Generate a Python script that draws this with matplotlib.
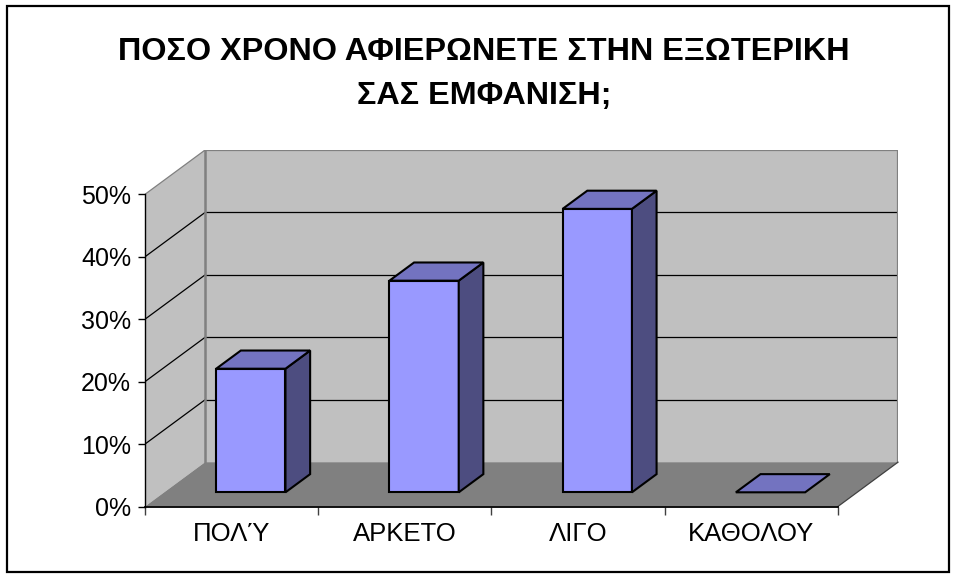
import matplotlib
matplotlib.use('Agg')
import matplotlib.pyplot as plt
from matplotlib.patches import Polygon, Rectangle

# data
categories = ['ΠΟΛΎ', 'ΑΡΚΕΤΟ', 'ΛΙΓΟ', 'ΚΑΘΟΛΟΥ']
values = [19.8, 33.9, 45.4, 0.0]
yticks = [0, 10, 20, 30, 40, 50]
ytick_labels = ['0%', '10%', '20%', '30%', '40%', '50%']
title = 'ΠΟΣΟ ΧΡΟΝΟ ΑΦΙΕΡΩΝΕΤΕ ΣΤΗΝ ΕΞΩΤΕΡΙΚΗ\nΣΑΣ ΕΜΦΑΝΙΣΗ;'

plt.rcParams['font.family'] = ['Liberation Sans', 'DejaVu Sans']

# 3d look: depth offset of the back wall, in data units
ddx = 0.347
ddy = 7.1
bar_w = 0.4
d0, d1 = 0.32, 0.73   # bar front/back position inside the depth
ymax = yticks[-1]
n = len(categories)

wall_c = '#c0c0c0'
floor_c = '#808080'
edge_c = '#808080'
front_c = '#9999ff'
top_c = '#7373c0'
side_c = '#4d4d80'

W, H = 957, 578
fig = plt.figure(figsize=(W / 100, H / 100), dpi=100)
ax = fig.add_axes([145 / W, (H - 506.5) / H, (898 - 145) / W, (506.5 - 150) / H])
ax.set_xlim(0, n + ddx)
ax.set_ylim(0, ymax + ddy)
ax.set_facecolor('none')

# walls and floor
ax.add_patch(Polygon([(0, 0), (0, ymax), (ddx, ymax + ddy), (ddx, ddy)],
                     closed=True, fc=wall_c, ec='none', zorder=1))
ax.add_patch(Polygon([(ddx, ddy), (ddx, ymax + ddy), (n + ddx, ymax + ddy), (n + ddx, ddy)],
                     closed=True, fc=wall_c, ec='none', zorder=1))
ax.add_patch(Polygon([(0, 0), (n, 0), (n + ddx, ddy), (ddx, ddy)],
                     closed=True, fc=floor_c, ec='none', zorder=1))

# gridlines on the back and side walls
for v in yticks[1:-1]:
    ax.plot([ddx, n + ddx], [v + ddy, v + ddy], color='black', lw=0.9, zorder=2)
for v in yticks[1:]:
    ax.plot([0, ddx], [v, v + ddy], color='black' if v < ymax else edge_c, lw=0.9, zorder=2)
# wall borders
ax.plot([ddx, n + ddx, n + ddx], [ymax + ddy, ymax + ddy, ddy], color=edge_c, lw=1.6, zorder=2)
ax.plot([ddx, ddx], [ddy, ymax + ddy], color=edge_c, lw=1.8, zorder=2)
ax.plot([n, n + ddx], [0, ddy], color='#404040', lw=0.9, zorder=2, clip_on=False)

# bars
dd = d1 - d0
for i, v in enumerate(values):
    xl = i + 0.5 - bar_w / 2 + d0 * ddx
    xr = xl + bar_w
    yb = d0 * ddy
    yt = yb + v
    kw = dict(closed=True, ec='black', lw=1.5, joinstyle='miter', zorder=3)
    if v > 0:
        ax.add_patch(Rectangle((xl, yb), bar_w, v, fc=front_c, ec='black', lw=1.5, zorder=3))
        ax.add_patch(Polygon([(xr, yb), (xr + dd * ddx, yb + dd * ddy),
                              (xr + dd * ddx, yt + dd * ddy), (xr, yt)], fc=side_c, **kw))
    ax.add_patch(Polygon([(xl, yt), (xr, yt), (xr + dd * ddx, yt + dd * ddy),
                          (xl + dd * ddx, yt + dd * ddy)], fc=top_c, **kw))

# axes
for s in ['top', 'right']:
    ax.spines[s].set_visible(False)
ax.spines['left'].set_bounds(0, ymax)
ax.spines['bottom'].set_bounds(0, n)
ax.spines['left'].set_linewidth(1.0)
ax.spines['bottom'].set_linewidth(1.3)
ax.spines['left'].set_zorder(4)
ax.spines['bottom'].set_zorder(4)
ax.set_yticks(yticks)
ax.set_yticklabels(ytick_labels, fontsize=18)
ax.set_xticks(range(n + 1))
ax.set_xticklabels([''] * (n + 1))
ax.set_xticks([i + 0.5 for i in range(n)], minor=True)
ax.set_xticklabels(categories, minor=True, fontsize=18.5)
ax.tick_params(axis='y', length=5, width=1.0, pad=5)
ax.tick_params(axis='x', which='major', length=6, width=1.0, color='#404040')
ax.tick_params(axis='x', which='minor', length=0, pad=11)

fig.text(484 / W, 1 - 74 / H, title, ha='center', va='center',
         fontsize=23.3, fontweight='bold', linespacing=1.65)

fig.patches.append(Rectangle((7.5 / W, 6 / H), (949 - 7.5) / W, (572 - 6) / H,
                             transform=fig.transFigure, fill=False, ec='black', lw=1.6))

fig.savefig('out.png', dpi=100)
